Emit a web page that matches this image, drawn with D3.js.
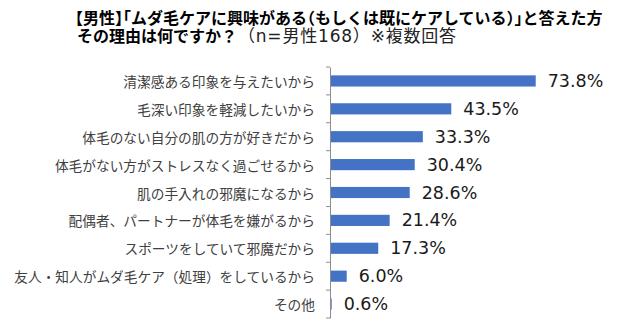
<!DOCTYPE html>
<html><head><meta charset="utf-8">
<script src="https://cdn.jsdelivr.net/npm/d3@7"></script>
<style>
html,body{margin:0;padding:0;background:#fff;}
svg{display:block;}
</style></head>
<body>
<svg id="chart" width="640" height="325"></svg>
<script>
const titleLines = [
  "【男性】「ムダ毛ケアに興味がある（もしくは既にケアしている）」と答えた方",
  "その理由は何ですか？"
];
const titleSub = "（n=男性168）※複数回答";
const categories = [
  "清潔感ある印象を与えたいから",
  "毛深い印象を軽減したいから",
  "体毛のない自分の肌の方が好きだから",
  "体毛がない方がストレスなく過ごせるから",
  "肌の手入れの邪魔になるから",
  "配偶者、パートナーが体毛を嫌がるから",
  "スポーツをしていて邪魔だから",
  "友人・知人がムダ毛ケア（処理）をしているから",
  "その他"
];
const values = [73.8, 43.5, 33.3, 30.4, 28.6, 21.4, 17.3, 6.0, 0.6];

const svg = d3.select("#chart");
const x = d3.scaleLinear().domain([0, 80]).range([330, 553]);
const y = d3.scaleBand().domain(categories).range([67, 318]).paddingInner(0.6).paddingOuter(0.3);
const yb = d3.scaleBand().domain(categories).range([67, 318]);
const titleFont = "'DejaVu Sans', 'Noto Sans CJK JP', sans-serif";

// title line 1 (half-width brackets)
svg.append("text")
  .attr("x", 75).attr("y", 24)
  .style("font-family", titleFont)
  .style("font-size", "16px").style("font-weight", "bold")
  .style("font-feature-settings", "'halt'")
  .attr("fill", "#000")
  .text(titleLines[0]);
// title line 2
svg.append("text")
  .attr("x", 77).attr("y", 42)
  .style("font-family", titleFont)
  .style("font-size", "16px").style("font-weight", "bold")
  .attr("fill", "#000")
  .text(titleLines[1]);
svg.append("text")
  .attr("x", 238).attr("y", 42)
  .style("font-family", titleFont)
  .style("font-size", "17px")
  .style("letter-spacing", "0.8px")
  .attr("fill", "#222")
  .text(titleSub);

// bars
svg.append("g").selectAll("rect").data(values).join("rect")
  .attr("x", x(0))
  .attr("y", (d, i) => y(categories[i]))
  .attr("width", d => x(d) - x(0))
  .attr("height", y.bandwidth())
  .attr("fill", "#4472C4");

// axis
const axis = d3.axisLeft(yb).tickSize(0).tickFormat("");
const ga = svg.append("g").attr("transform", `translate(${x(0)},0)`).call(axis);
ga.select(".domain").attr("stroke", "#8c8c8c").attr("stroke-width", 1);
const bounds = categories.map(c => yb(c)).concat([yb.range()[1]]);
ga.selectAll("line.b").data(bounds).join("line").attr("class", "b")
  .attr("x1", -4).attr("x2", 0).attr("y1", d => d).attr("y2", d => d)
  .attr("stroke", "#8c8c8c").attr("stroke-width", 1);

// category labels
svg.append("g").selectAll("text").data(categories).join("text")
  .attr("x", 315)
  .attr("y", c => yb(c) + yb.bandwidth() / 2)
  .attr("text-anchor", "end")
  .attr("dominant-baseline", "central")
  .style("font-family", "'Noto Sans CJK JP', sans-serif")
  .style("font-size", "13.7px")
  .attr("fill", "#404040")
  .text(c => c);

// value labels
svg.append("g").selectAll("text").data(values).join("text")
  .attr("x", d => x(d) + 12)
  .attr("y", (d, i) => y(categories[i]) + y.bandwidth() / 2)
  .attr("dominant-baseline", "central")
  .style("font-family", "'DejaVu Sans', Verdana, sans-serif")
  .style("font-size", "17.5px")
  .attr("fill", "#1a1a1a")
  .text(d => d.toFixed(1) + "%");
</script>
</body></html>
